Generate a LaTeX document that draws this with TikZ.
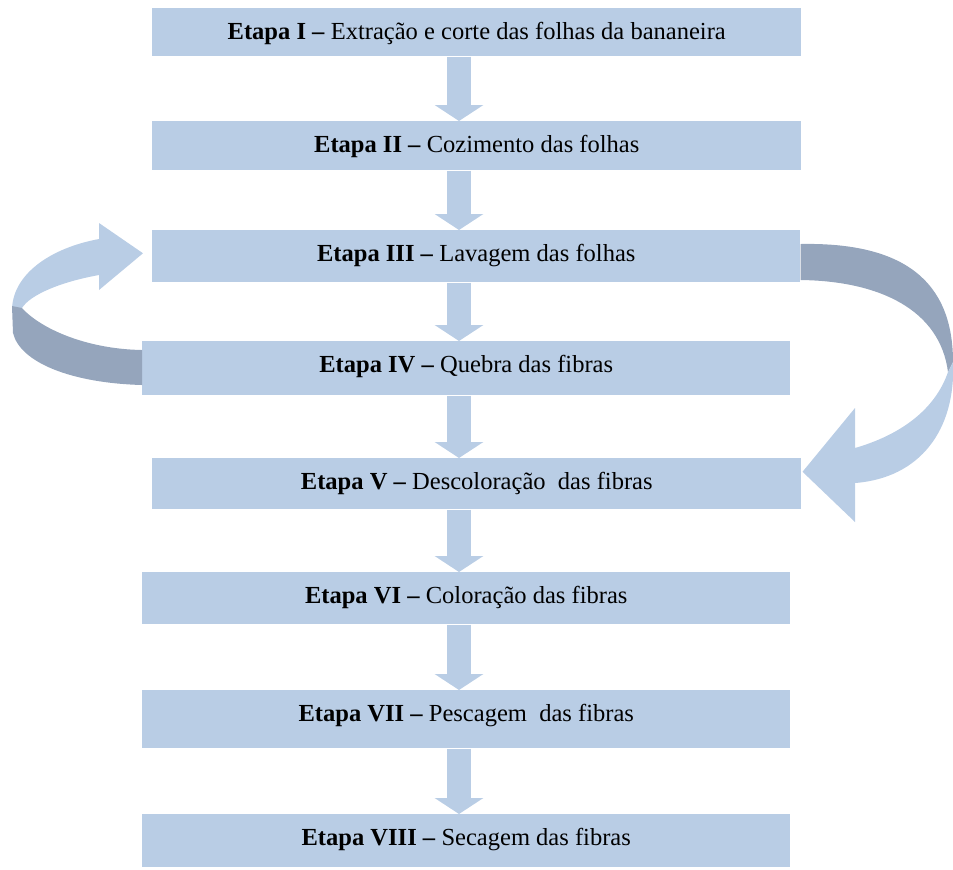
\documentclass[tikz,border=0pt]{standalone}
\usepackage{fontspec}
\setmainfont{Liberation Serif}
\usetikzlibrary{arrows.meta,calc}
\definecolor{lightblue}{RGB}{185,205,229}
\definecolor{darkblue}{RGB}{149,165,188}
\begin{document}
\begin{tikzpicture}[x=0.75pt,y=-0.75pt,
  box/.style={fill=lightblue, draw=none, inner sep=0pt, anchor=north west},
  lbl/.style={anchor=base, font=\fontsize{18.4}{22}\selectfont, inner sep=0pt},
  dnarrow/.style={draw=lightblue, line width=18pt, -{Triangle[width=36pt,length=12pt]}},
  ribbonlight/.style={fill=lightblue, draw=none},
  ribbondark/.style={fill=darkblue, draw=none}]
\useasboundingbox (0,0) rectangle (953,869);
% boxes
\node[box, minimum width=486.75pt, minimum height=36pt]    (b1) at (152,8)   {};
\node[box, minimum width=486.75pt, minimum height=36.75pt] (b2) at (152,121) {};
\node[box, minimum width=486pt,    minimum height=39pt]    (b3) at (152,230) {};
\node[box, minimum width=486pt,    minimum height=40.5pt]  (b4) at (142,341) {};
\node[box, minimum width=486.75pt, minimum height=38.25pt] (b5) at (152,458) {};
\node[box, minimum width=486pt,    minimum height=39pt]    (b6) at (142,572) {};
\node[box, minimum width=486pt,    minimum height=43.5pt]  (b7) at (142,690) {};
\node[box, minimum width=486pt,    minimum height=39.75pt] (b8) at (142,814) {};
% labels
\node[lbl] (t1) at ($(b1.north)+(0,31)$) {\textbf{Etapa I –} Extração e corte das folhas da bananeira};
\node[lbl] (t2) at ($(b2.north)+(0,31)$) {\textbf{Etapa II –} Cozimento das folhas};
\node[lbl] (t3) at ($(b3.north)+(0,31)$) {\textbf{Etapa III –} Lavagem das folhas};
\node[lbl] (t4) at ($(b4.north)+(0,31)$) {\textbf{Etapa IV –} Quebra das fibras};
\node[lbl] (t5) at ($(b5.north)+(0,31)$) {\textbf{Etapa V –} Descoloração\ \ das fibras};
\node[lbl] (t6) at ($(b6.north)+(0,31)$) {\textbf{Etapa VI –} Coloração das fibras};
\node[lbl] (t7) at ($(b7.north)+(0,31)$) {\textbf{Etapa VII –} Pescagem\ \ das fibras};
\node[lbl] (t8) at ($(b8.north)+(0,31)$) {\textbf{Etapa VIII –} Secagem das fibras};
% straight arrows
\coordinate (ax) at (459,0);
\draw[dnarrow] (b1.south -| ax) -- (b2.north -| ax);
\draw[dnarrow] (b2.south -| ax) -- (b3.north -| ax);
\draw[dnarrow] (b3.south -| ax) -- (b4.north -| ax);
\draw[dnarrow] (b4.south -| ax) -- (b5.north -| ax);
\draw[dnarrow] (b5.south -| ax) -- (b6.north -| ax);
\draw[dnarrow] (b6.south -| ax) -- (b7.north -| ax);
\draw[dnarrow] (b7.south -| ax) -- (b8.north -| ax);
% left curved ribbon arrow: from IV back to III
\coordinate (lt) at ($(b3.west)+(-9,-3)$);
\fill[ribbonlight] (12,312) .. controls (11,275) and (50,248) .. (99,239)
  -- (99,223) -- (lt) -- (99,290) -- (99,275)
  .. controls (60,282) and (30,295) .. (22,308) -- cycle;
\fill[ribbondark] (12,306) -- (22,308) .. controls (40,328) and (85,349) .. ($(b4.north west)+(0,9)$)
  -- ($(b4.north west)+(0,44)$) .. controls (70,383) and (20,362) .. (13,333) -- cycle;
% right curved ribbon arrow: from III to V
\coordinate (rt) at ($(b5.east)+(1,-12)$);
\fill[ribbondark] ($(b3.north east)+(0,14)$) .. controls (905,242) and (953,282) .. (953,362)
  -- (948,372) .. controls (940,310) and (880,281) .. ($(b3.north east)+(0,50)$) -- cycle;
\fill[ribbonlight] (953,362) .. controls (956,430) and (920,478) .. (855,483)
  -- (855,522) -- (rt) -- (855,408) -- (855,448)
  .. controls (900,435) and (935,410) .. (948,372) -- cycle;
\end{tikzpicture}
\end{document}
